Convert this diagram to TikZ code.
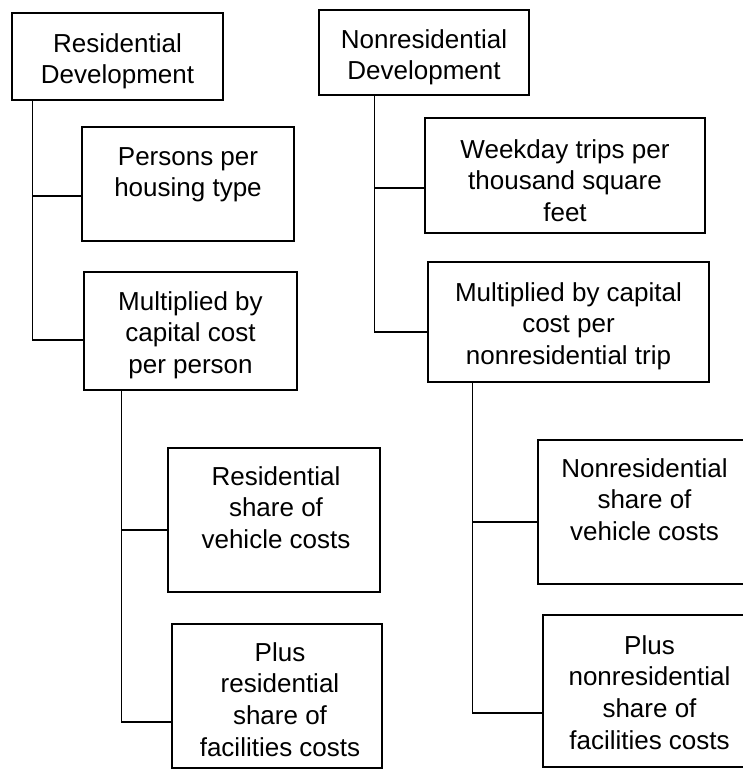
\documentclass[tikz,border=0pt]{standalone}
\usepackage{fontspec}
\setmainfont{Liberation Sans}
\begin{document}
\begin{tikzpicture}[x=1pt,y=-1pt,
  box/.style={draw, line width=1.3pt, inner sep=0pt, rectangle},
  txt/.style={anchor=north, inner sep=0pt, align=center, font=\fontsize{26}{31.9}\selectfont},
  link/.style={line width=1.3pt}]
\useasboundingbox (0,0) rectangle (743,770);
\clip (0,0) rectangle (743,770);
% boxes
\node[box, minimum width=211pt, minimum height=87pt] (res) at (117.5,56.5) {};
\node[box, minimum width=210pt, minimum height=85pt] (nres) at (424,52.5) {};
\node[box, minimum width=212pt, minimum height=114pt] (pers) at (188,184) {};
\node[box, minimum width=213pt, minimum height=118pt] (multL) at (190.5,331) {};
\node[box, minimum width=280pt, minimum height=115pt] (week) at (565,175.5) {};
\node[box, minimum width=281pt, minimum height=120pt] (multR) at (568.5,322) {};
\node[box, minimum width=212pt, minimum height=144pt] (resV) at (274,520) {};
\node[box, minimum width=230pt, minimum height=144pt] (nresV) at (653,512) {};
\node[box, minimum width=210pt, minimum height=144pt] (resF) at (277,696) {};
\node[box, minimum width=230pt, minimum height=152pt] (nresF) at (658,691) {};
% texts
\node[txt] (resT) at (117.5,33) {Residential\\Development};
\node[txt] (nresT) at (424,29) {Nonresidential\\Development};
\node[txt] (persT) at (188,147) {Persons per\\housing type};
\node[txt] (multLT) at (190.5,291) {Multiplied by\\capital cost\\per person};
\node[txt] (weekT) at (565,139) {Weekday trips per\\thousand square\\feet};
\node[txt] (multRT) at (568.5,282) {Multiplied by capital\\cost per\\nonresidential trip};
\node[txt] (resVT) at (276,466) {Residential\\share of\\vehicle costs};
\node[txt] (nresVT) at (644.5,458) {Nonresidential\\share of\\vehicle costs};
\node[txt] (resFT) at (280,642) {Plus\\residential\\share of\\facilities costs};
\node[txt] (nresFT) at (649.5,635) {Plus\\nonresidential\\share of\\facilities costs};
% connectors
\draw[link] ([xshift=21pt]res.south west) |- ([yshift=-12pt]pers.west);
\draw[link] ([xshift=21pt]res.south west) |- ([yshift=-9pt]multL.west);
\draw[link] ([xshift=56pt]nres.south west) |- ([yshift=-12.5pt]week.west);
\draw[link] ([xshift=56pt]nres.south west) |- ([yshift=-10pt]multR.west);
\draw[link] ([xshift=38pt]multL.south west) |- ([yshift=-10pt]resV.west);
\draw[link] ([xshift=38pt]multL.south west) |- ([yshift=-26pt]resF.west);
\draw[link] ([xshift=45pt]multR.south west) |- ([yshift=-10pt]nresV.west);
\draw[link] ([xshift=45pt]multR.south west) |- ([yshift=-22pt]nresF.west);
\end{tikzpicture}
\end{document}
